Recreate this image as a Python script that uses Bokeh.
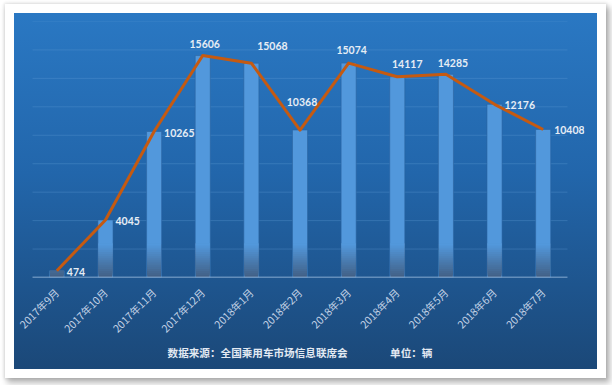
import numpy as np
from bokeh.plotting import figure
from bokeh.models import FactorRange, Range1d, LabelSet, ColumnDataSource, Title
from bokeh.core.properties import value
from bokeh.embed import file_html
from bokeh.resources import INLINE

# ---- data ----
months = ["2017年9月", "2017年10月", "2017年11月", "2017年12月", "2018年1月", "2018年2月",
          "2018年3月", "2018年4月", "2018年5月", "2018年6月", "2018年7月"]
sales = [474, 4045, 10265, 15606, 15068, 10368, 15074, 14117, 14285, 12176, 10408]
y_ticks = [2000, 4000, 6000, 8000, 10000, 12000, 14000, 16000, 18000]
note_text = "数据来源：全国乘用车市场信息联席会\u3000\u3000\u3000\u3000单位：辆"

# label placement (screen px offsets relative to point)
label_dx = [10, 10, 10, 2, 21, 2, 3, 10, 7, 10, 11]
label_dy = [-1, -1, -1, 12, 17, 28, 13, 13, 11, -1, -1]
label_align = ["left", "left", "left", "center", "center", "center", "center",
               "center", "center", "left", "left"]

ncat = len(months)
p = figure(width=583, height=356,
           x_range=FactorRange(*months, range_padding=0.35, range_padding_units="absolute"),
           y_range=Range1d(0, 18000), output_backend="svg", toolbar_location=None,
           min_border_left=1, min_border_right=13, min_border_top=8, min_border_bottom=92)
p.margin = (13, 0, 0, 14)
p.styles = {
    "background": "linear-gradient(to bottom, #2a78c3 0%, #2266ab 45%, #1b4878 100%)",
    "box-shadow": "0 0 0 9px #ffffff, 0 0 3px 10px rgba(0,0,0,0.10), 3px 4px 6px 10px rgba(0,0,0,0.28)",
}
p.border_fill_alpha = 0
p.background_fill_alpha = 0
p.outline_line_color = None

# grid (drawn across the category span only)
p.xgrid.grid_line_color = None
p.ygrid.grid_line_color = None
p.yaxis.visible = False
p.segment(x0=[0] * len(y_ticks), x1=[ncat] * len(y_ticks), y0=y_ticks, y1=y_ticks,
          line_color="#5b9bd5", line_alpha=0.35, line_width=1)

# x axis
ax = p.xaxis[0]
ax.axis_line_color = None
ax.major_tick_line_color = None
ax.minor_tick_line_color = None
ax.major_label_orientation = np.pi / 4
ax.major_label_standoff = 7
ax.major_label_text_font = "Noto Sans CJK SC"
ax.major_label_text_font_size = "10.5px"
ax.major_label_text_color = "#c3d2e6"

# bars: solid top colour plus a darkening gradient near the base
vals = np.array(sales, dtype=float)
bw = 0.31
p.vbar(x=months, top=sales, bottom=0, width=bw, fill_color="#5298dc",
       line_color="#2c64a0", line_alpha=0.6, line_width=1)
n = 16
grad_h = 2400.0
top_c = np.array([0x52, 0x98, 0xdc])
bot_c = np.array([0x42, 0x61, 0x87])
inner_w = bw - 0.025
for k in range(n):
    lo = k * grad_h / n
    mask = vals > lo
    xs = [m for m, keep in zip(months, mask) if keep]
    tops = np.minimum(vals[mask], grad_h)
    t = k / (n - 1)
    c = bot_c + (top_c - bot_c) * t
    col = "#%02x%02x%02x" % tuple(int(round(v)) for v in c)
    p.vbar(x=xs, top=tops, bottom=lo, width=inner_w, fill_color=col, line_color=None)

# baseline
p.segment(x0=[0], x1=[ncat], y0=[0], y1=[0], line_color="#a7c6e6", line_width=1.5)

# line
p.line(x=months, y=sales, line_color="#c55a11", line_width=3, line_join="round")

# data labels
src = ColumnDataSource(dict(x=months, y=sales, t=[str(v) for v in sales],
                            dx=label_dx, dy=label_dy, al=label_align))
p.add_layout(LabelSet(x="x", y="y", text="t", x_offset="dx", y_offset="dy", text_align="al",
                      text_baseline="middle", text_font=value("Lato"), text_font_style="bold",
                      text_font_size="10.5px", text_color="#e6edf5", source=src))

# source note
note = Title(text=note_text, align="center", offset=3, text_font="Noto Sans CJK SC",
             text_font_style="bold", text_font_size="10.6px", text_color="#e2e9f2",
             standoff=-2)
p.add_layout(note, "below")

open("out.html", "w").write(file_html(p, INLINE))
